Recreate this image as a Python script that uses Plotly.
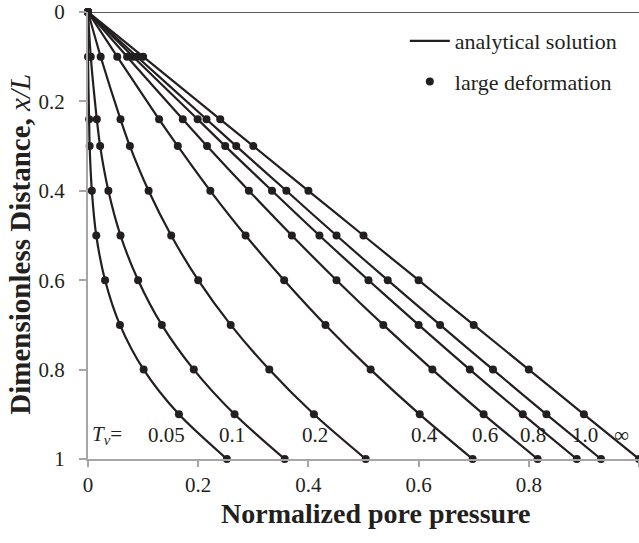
import plotly.graph_objects as go

# depth x/L (dots / curve nodes)
depth = [0.0, 0.1, 0.24, 0.3, 0.4, 0.5, 0.6, 0.7, 0.8, 0.9, 1.0]

# normalized pore pressure for each time factor Tv
tv_labels = ["0.05", "0.1", "0.2", "0.4", "0.6", "0.8", "1.0", "∞"]
pressure = {
    "0.05": [0.0, 0.000, 0.002, 0.003, 0.007, 0.015, 0.031, 0.058, 0.101, 0.165, 0.252],
    "0.1":  [0.0, 0.005, 0.016, 0.022, 0.037, 0.059, 0.091, 0.134, 0.192, 0.266, 0.357],
    "0.2":  [0.0, 0.023, 0.059, 0.076, 0.110, 0.151, 0.200, 0.259, 0.329, 0.410, 0.504],
    "0.4":  [0.0, 0.053, 0.129, 0.163, 0.222, 0.286, 0.356, 0.431, 0.513, 0.602, 0.698],
    "0.6":  [0.0, 0.071, 0.172, 0.216, 0.292, 0.370, 0.451, 0.536, 0.625, 0.718, 0.816],
    "0.8":  [0.0, 0.082, 0.199, 0.249, 0.334, 0.420, 0.509, 0.600, 0.693, 0.789, 0.887],
    "1.0":  [0.0, 0.089, 0.215, 0.269, 0.360, 0.451, 0.544, 0.639, 0.735, 0.832, 0.931],
    "∞":    [0.0, 0.100, 0.240, 0.300, 0.400, 0.500, 0.600, 0.700, 0.800, 0.900, 1.000],
}
# label positions (x, x/L) for Tv annotations
label_x = [0.142, 0.261, 0.412, 0.610, 0.720, 0.808, 0.902, 0.969]
label_y = 0.946

x_ticks = [0, 0.2, 0.4, 0.6, 0.8, 1]
x_tick_text = ["0", "0.2", "0.4", "0.6", "0.8", "1"]
y_ticks = [0, 0.2, 0.4, 0.6, 0.8, 1]
y_tick_text = ["0", "0.2", "0.4", "0.6", "0.8", "1"]

INK = "#231f20"
AXIS = "#a6a6a6"
FONT = "Liberation Serif"

fig = go.Figure()
for i, tv in enumerate(tv_labels):
    fig.add_trace(go.Scatter(
        x=pressure[tv], y=depth, mode="lines",
        line=dict(color=INK, width=2.2, shape="spline", smoothing=0.8),
        name="analytical solution", legendgroup="a",
        showlegend=(i == 0), cliponaxis=False, hoverinfo="skip"))
for i, tv in enumerate(tv_labels):
    fig.add_trace(go.Scatter(
        x=pressure[tv], y=depth, mode="markers",
        marker=dict(color=INK, size=8),
        name="large deformation", legendgroup="b",
        showlegend=(i == 0), cliponaxis=False))

annotations = [dict(x=0.003, y=label_y, xref="x", yref="y", xanchor="left",
                    text="<i>T</i><sub><i>v</i></sub>=", showarrow=False,
                    font=dict(family=FONT, size=21, color=INK))]
for lx, tv in zip(label_x, tv_labels):
    annotations.append(dict(x=lx, y=label_y, xref="x", yref="y", text=tv,
                            showarrow=False,
                            font=dict(family=FONT, size=21, color=INK)))
# axis titles
annotations.append(dict(x=0.5218, y=-0.121, xref="paper", yref="paper",
                        text="<b>Normalized pore pressure</b>", showarrow=False,
                        xanchor="center", yanchor="middle",
                        font=dict(family=FONT, size=28, color=INK)))
annotations.append(dict(x=-0.124, y=0.481, xref="paper", yref="paper",
                        text="<b>Dimensionless Distance, </b><i>x/L</i>",
                        showarrow=False, textangle=-90,
                        xanchor="center", yanchor="middle",
                        font=dict(family=FONT, size=29, color=INK)))

fig.update_layout(
    width=639, height=543,
    margin=dict(l=88, r=0, t=12, b=84),
    paper_bgcolor="white", plot_bgcolor="white",
    font=dict(family=FONT, color=INK),
    showlegend=True,
    legend=dict(x=0.575, y=0.982, xanchor="left", yanchor="top",
                bgcolor="rgba(0,0,0,0)", itemwidth=40,
                traceorder="grouped", tracegroupgap=9,
                font=dict(family=FONT, size=22, color=INK)),
    annotations=annotations,
    shapes=[dict(type="line", xref="paper", yref="y", x0=0, x1=1, y0=0, y1=0,
                 line=dict(color="#5a5a5a", width=2), layer="below")],
)
fig.update_xaxes(
    range=[0, 1], tickvals=x_ticks, ticktext=x_tick_text,
    showgrid=False, zeroline=False, showline=True, linecolor=AXIS, linewidth=2,
    ticks="outside", ticklen=6, tickcolor=AXIS, tickwidth=1.5,
    tickfont=dict(family=FONT, size=21, color=INK), ticklabelstandoff=0,
    automargin=False,
)
fig.update_yaxes(
    range=[1, 0], tickvals=y_ticks, ticktext=y_tick_text,
    showgrid=False, zeroline=False, showline=True, linecolor=AXIS, linewidth=2,
    ticks="outside", ticklen=7, tickcolor=AXIS, tickwidth=1.5,
    tickfont=dict(family=FONT, size=21, color=INK), ticklabelstandoff=10,
    automargin=False,
)
fig.write_html("out.html")
